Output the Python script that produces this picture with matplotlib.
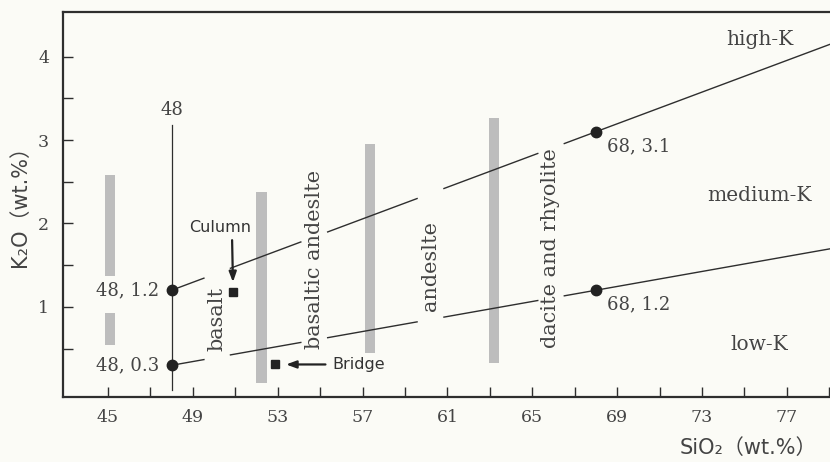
import numpy as np
import matplotlib
matplotlib.use("Agg")
import matplotlib.pyplot as plt

# ---- data -------------------------------------------------------------
# boundary lines of the K2O–SiO2 classification (two anchor points each)
high_k_x = [48, 68]
high_k_y = [1.2, 3.1]
low_k_x = [48, 68]
low_k_y = [0.3, 1.2]

# shaded composition ranges (x, bottom, top)
range_x = [45.1, 45.1, 52.25, 57.35, 63.2]
range_bottom = [0.54, 1.35, 0.09, 0.45, 0.33]
range_top = [0.93, 2.58, 2.38, 2.95, 3.27]

# rock-type names written along the diagram
rock_names = ["basalt", "basaltic andeslte", "andeslte", "dacite and rhyolite"]
rock_x = [50.15, 54.72, 60.2, 65.88]
rock_y = [0.85, 1.57, 1.49, 1.71]

# samples
sample_names = ["Culumn", "Bridge"]
sample_x = [50.9, 52.87]
sample_y = [1.18, 0.31]

# field names
field_names = ["high-K", "medium-K", "low-K"]
field_y = [4.2, 2.33, 0.55]

x_ticks_labeled = [45, 49, 53, 57, 61, 65, 69, 73, 77]
y_ticks_labeled = [1, 2, 3, 4]

# ---- style ------------------------------------------------------------
bg = "#fbfbf6"
ink = "#2e2e2e"
text_c = "#444444"
bar_c = "#bdbdbd"
serif = "DejaVu Serif"
sans_list = ["DejaVu Sans", "Noto Sans CJK JP"]

fig = plt.figure(figsize=(8.3, 4.62), dpi=100, facecolor=bg)
ax = fig.add_axes([0.0759, 0.1407, 0.9241, 0.8333], facecolor=bg)

xmin, xmax = 42.88, 79.03
ax.set_xlim(xmin, xmax)
ax.set_ylim(-0.08, 4.535)

# composition ranges
for x, b, t in zip(range_x, range_bottom, range_top):
    ax.bar(x, t - b, bottom=b, width=0.5, color=bar_c, edgecolor="none", zorder=1)

# vertical line at 48 wt.% SiO2
ax.plot([48, 48], [0.0, 3.18], color=ink, lw=0.9, zorder=2)
ax.text(48, 3.36, "48", ha="center", va="center", fontsize=13,
        family=serif, color=text_c)

# boundary lines, broken where the rock names stand
gap = 0.62
for xs, ys in [(high_k_x, high_k_y), (low_k_x, low_k_y)]:
    slope = (ys[1] - ys[0]) / (xs[1] - xs[0])
    xx = np.linspace(xs[0], xmax + 1, 2000)
    yy = ys[0] + slope * (xx - xs[0])
    for rx in rock_x:
        yy[np.abs(xx - rx) < gap] = np.nan
    ax.plot(xx, yy, color=ink, lw=1.0, zorder=3)
    ax.plot(xs, ys, "o", color="#222222", ms=7.5, zorder=4)

# anchor-point labels
for xs, ys in [(high_k_x, high_k_y), (low_k_x, low_k_y)]:
    ax.text(xs[0] - 0.6, ys[0], f"{xs[0]}, {ys[0]}", ha="right", va="center",
            fontsize=13, family=serif, color=text_c, zorder=5,
            bbox=dict(facecolor=bg, edgecolor="none", pad=4))
    ax.text(xs[1] + 0.5, ys[1] - 0.17, f"{xs[1]}, {ys[1]}", ha="left",
            va="center", fontsize=13, family=serif, color=text_c, zorder=5)

# rock names
for name, x, y in zip(rock_names, rock_x, rock_y):
    ax.text(x, y, name, rotation=90, ha="center", va="center", fontsize=15,
            family=serif, color=text_c, zorder=5)

# field names
for name, y in zip(field_names, field_y):
    ax.text(75.7, y, name, ha="center", va="center", fontsize=14.5,
            family=serif, color=text_c)

# samples with arrows
ax.plot(sample_x, sample_y, "s", color="#222222", ms=5.5, zorder=4)
arrow_style = "-|>,head_length=0.6,head_width=0.22"
# Culumn: label above, arrow pointing down
ax.annotate("", xy=(sample_x[0], sample_y[0]),
            xytext=(sample_x[0] - 0.05, sample_y[0] + 0.62),
            arrowprops=dict(arrowstyle=arrow_style, color="#222222", lw=1.6,
                            shrinkA=0, shrinkB=7))
ax.text(sample_x[0] - 0.6, sample_y[0] + 0.77, sample_names[0], ha="center",
        va="center", fontsize=11.5, family=sans_list, color="#333333")
# Bridge: label to the right, arrow pointing left
ax.annotate("", xy=(sample_x[1], sample_y[1]),
            xytext=(sample_x[1] + 2.38, sample_y[1]),
            arrowprops=dict(arrowstyle=arrow_style, color="#222222", lw=1.6,
                            shrinkA=0, shrinkB=8))
ax.text(sample_x[1] + 2.7, sample_y[1], sample_names[1], ha="left",
        va="center", fontsize=11.5, family=sans_list, color="#333333")

# axes, ticks and labels
for side in ["left", "bottom", "top"]:
    ax.spines[side].set_linewidth(1.6)
    ax.spines[side].set_color(ink)
ax.spines["right"].set_visible(False)

ax.set_xticks(np.arange(45, 80, 2), minor=True)
ax.set_xticks(x_ticks_labeled)
ax.set_xticklabels([str(v) for v in x_ticks_labeled])
ax.set_yticks(np.arange(0.5, 4.01, 0.5), minor=True)
ax.set_yticks(y_ticks_labeled)
ax.set_yticklabels([str(v) for v in y_ticks_labeled])
ax.tick_params(which="both", direction="in", length=7, width=1.0, color=ink,
               top=False, right=False)
ax.tick_params(axis="x", which="major", pad=9, labelsize=12.5, labelcolor=text_c)
ax.tick_params(axis="y", which="major", pad=10, labelsize=12.5, labelcolor=text_c)
for lab in ax.get_xticklabels() + ax.get_yticklabels():
    lab.set_family(serif)

ax.set_xlabel("SiO₂（wt.%）", fontsize=15, family=sans_list, color=text_c,
              va="center", ha="center")
ax.xaxis.set_label_coords(0.893, -0.132)
ax.set_ylabel("K₂O（wt.%）", fontsize=15, family=sans_list, color=text_c,
              va="center", ha="center")
ax.yaxis.set_label_coords(-0.056, 0.51)

fig.savefig("out.png", dpi=100, facecolor=bg)
